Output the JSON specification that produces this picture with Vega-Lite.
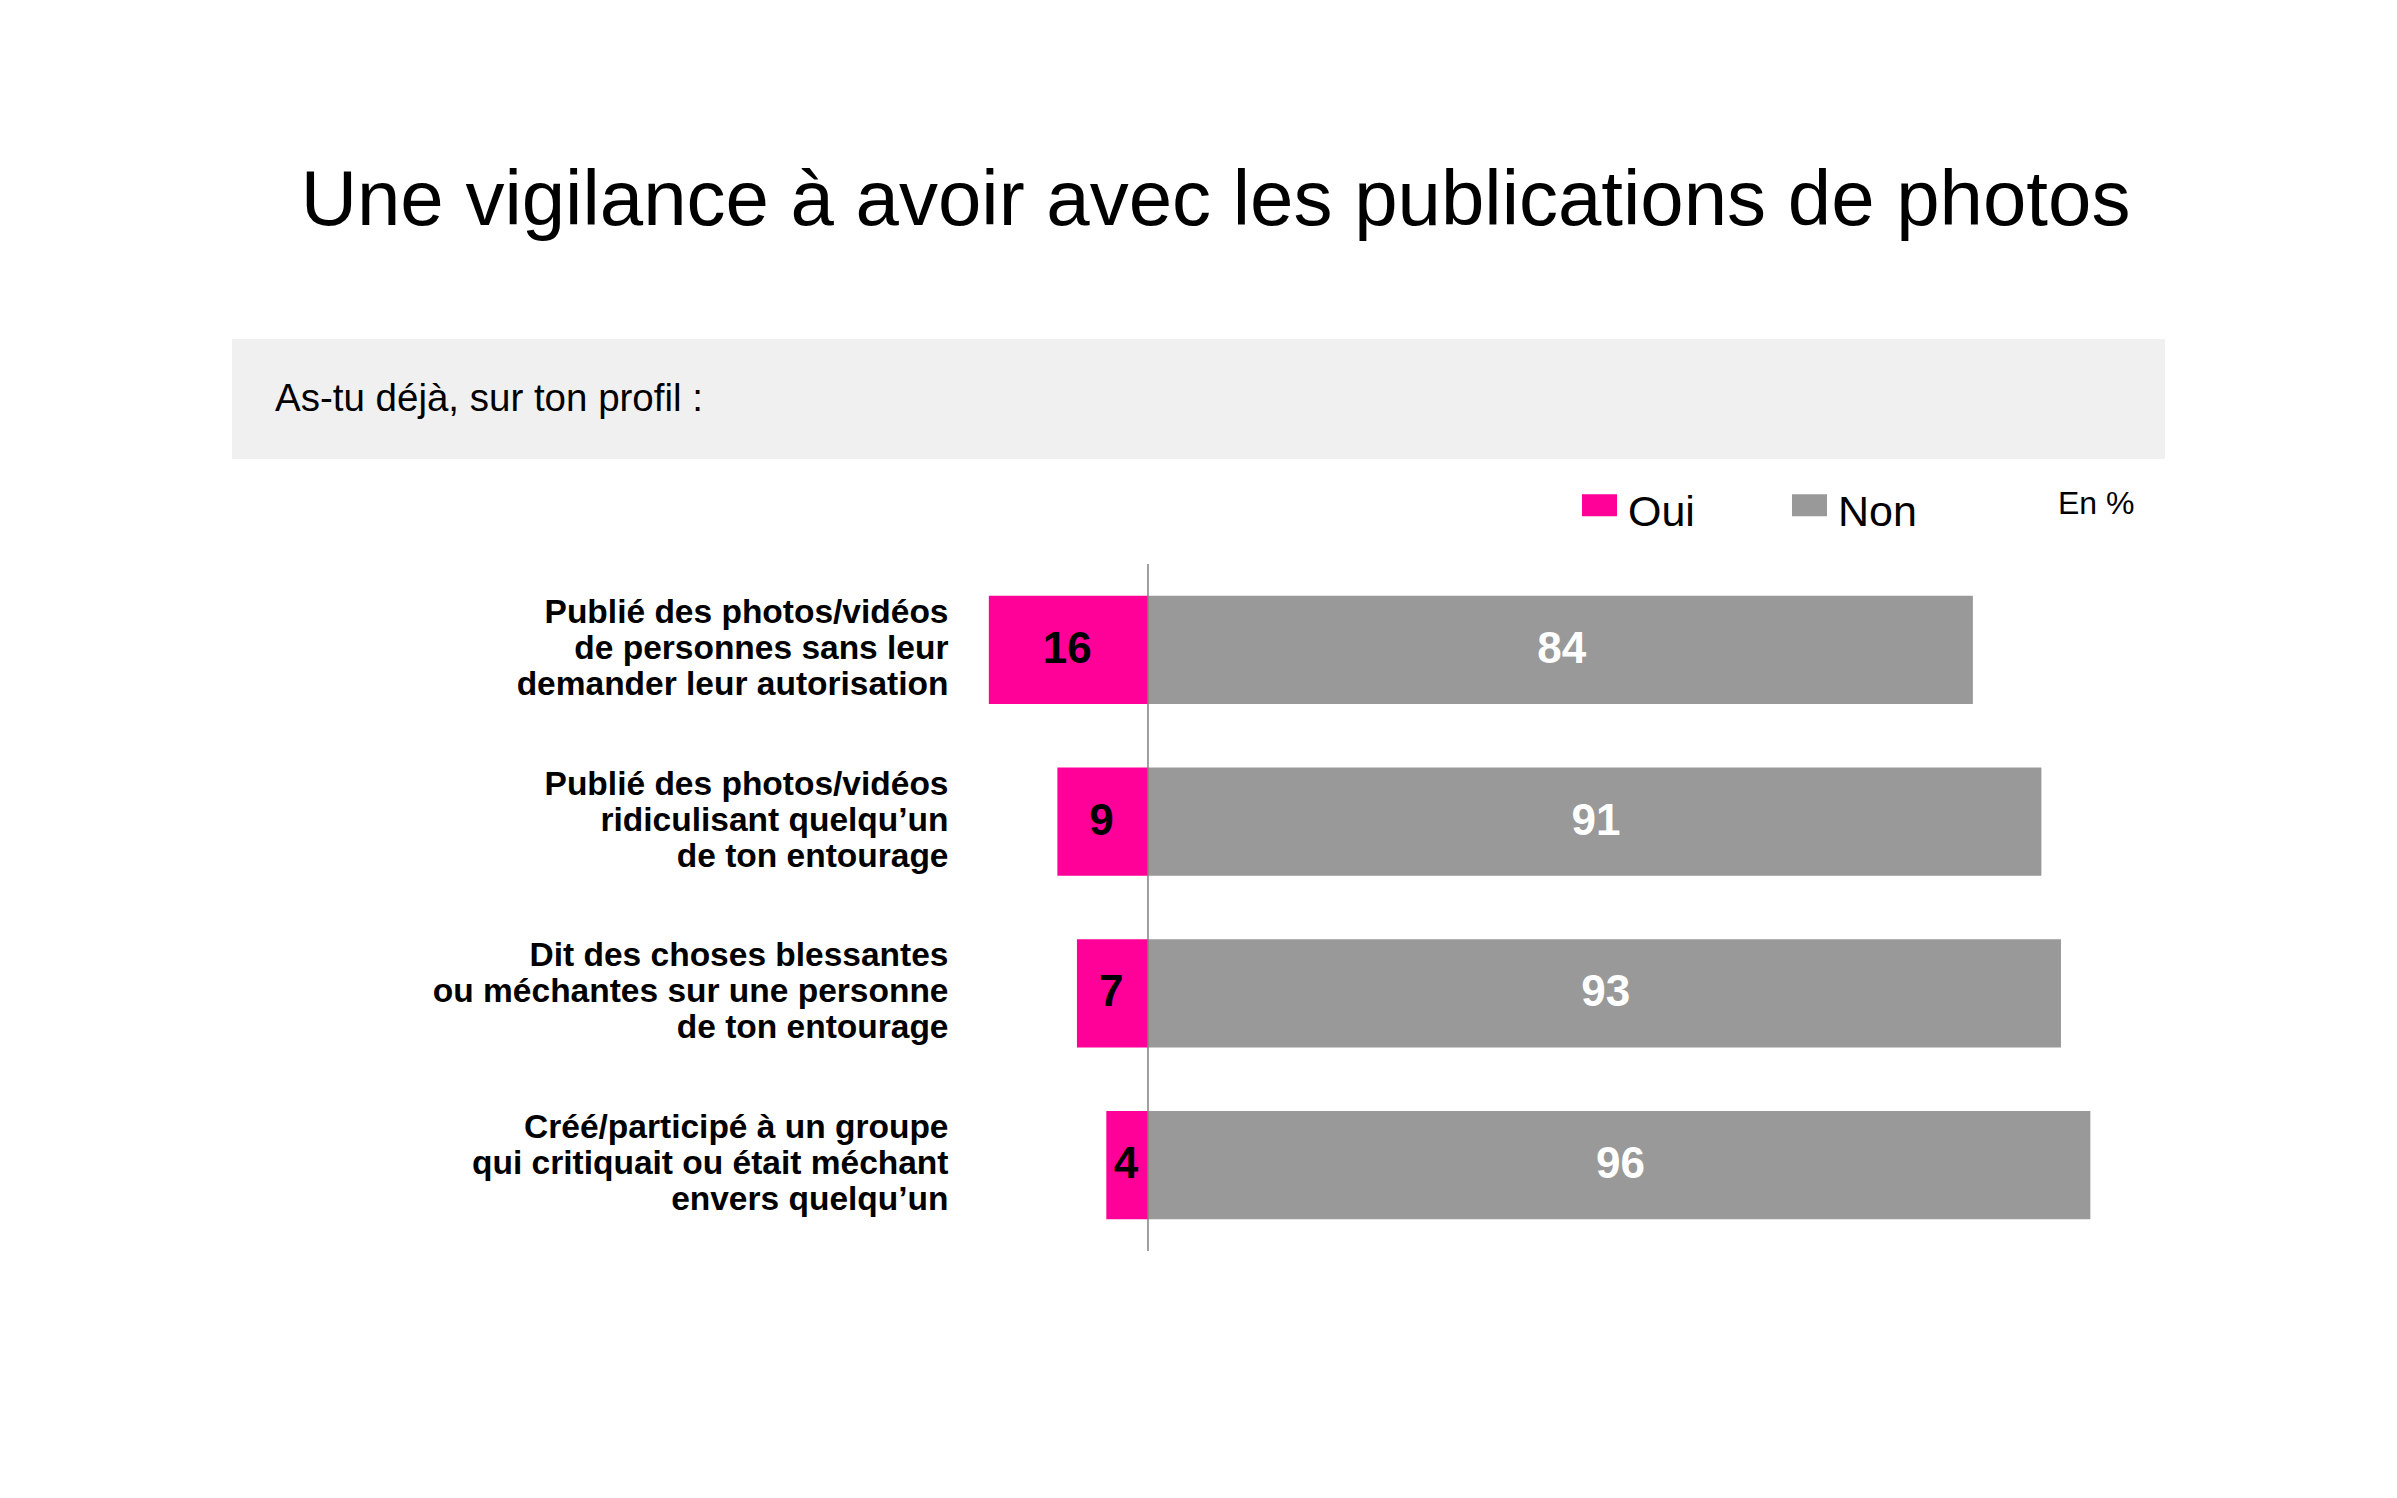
{
  "$schema": "https://vega.github.io/schema/vega-lite/v6.json",
  "background": "white",
  "padding": {"left": 232, "top": 163, "right": 10, "bottom": 10},
  "title": {
    "text": "Une vigilance à avoir avec les publications de photos",
    "fontSize": 78, "fontWeight": "normal", "font": "Liberation Sans", "color": "black",
    "anchor": "middle", "dx": 17, "offset": 98
  },
  "spacing": 104,
  "config": {"font": "Liberation Sans", "view": {"stroke": null}},
  "vconcat": [
    {
      "width": 1933,
      "height": 120,
      "view": {"fill": "#f0f0f0", "stroke": null},
      "data": {"values": [{"question": "As-tu déjà, sur ton profil :"}]},
      "mark": {"type": "text", "align": "left", "baseline": "middle", "fontSize": 38.5, "color": "black", "dx": 43},
      "encoding": {
        "text": {"field": "question"},
        "x": {"datum": 0, "type": "quantitative", "scale": {"domain": [0, 1]}, "axis": null},
        "y": {"datum": 0.5, "type": "quantitative", "scale": {"domain": [0, 1]}, "axis": null}
      }
    },
    {
      "width": 1933,
      "height": 687,
      "data": {
        "values": [
          {"item": "Publié des photos/vidéos|de personnes sans leur|demander leur autorisation", "reponse": "Oui", "valeur": 16},
          {"item": "Publié des photos/vidéos|de personnes sans leur|demander leur autorisation", "reponse": "Non", "valeur": 84},
          {"item": "Publié des photos/vidéos|ridiculisant quelqu’un|de ton entourage", "reponse": "Oui", "valeur": 9},
          {"item": "Publié des photos/vidéos|ridiculisant quelqu’un|de ton entourage", "reponse": "Non", "valeur": 91},
          {"item": "Dit des choses blessantes|ou méchantes sur une personne|de ton entourage", "reponse": "Oui", "valeur": 7},
          {"item": "Dit des choses blessantes|ou méchantes sur une personne|de ton entourage", "reponse": "Non", "valeur": 93},
          {"item": "Créé/participé à un groupe|qui critiquait ou était méchant|envers quelqu’un", "reponse": "Oui", "valeur": 4},
          {"item": "Créé/participé à un groupe|qui critiquait ou était méchant|envers quelqu’un", "reponse": "Non", "valeur": 96}
        ]
      },
      "transform": [
        {"calculate": "datum.reponse === 'Oui' ? -datum.valeur : datum.valeur", "as": "signe"},
        {"calculate": "datum.signe / 2", "as": "milieu"}
      ],
      "layer": [
        {
          "transform": [{"filter": "datum.reponse === 'Oui'"}],
          "mark": {"type": "bar", "xOffset": -2.5},
          "encoding": {
            "y": {"field": "item", "type": "nominal", "sort": null,
              "scale": {"paddingInner": 0.37, "paddingOuter": 0.185},
              "axis": {"title": null, "domain": false, "ticks": false, "labelFontSize": 33.5, "labelFontWeight": "bold",
                "labelColor": "black", "labelPadding": 24, "labelLineHeight": 36, "labelLimit": 800,
                "offset": -740, "labelOffset": -37, "labelExpr": "split(datum.label, '|')",
                "labelBaseline": "middle", "labelAlign": "right", "labelFont": "Liberation Sans"}},
            "x": {"field": "signe", "type": "quantitative", "scale": {"domain": [-93.56, 103.88], "nice": false, "zero": false}, "axis": null},
            "x2": {"datum": 0},
            "color": {"field": "reponse", "type": "nominal",
              "scale": {"domain": ["Oui", "Non"], "range": ["#FF0099", "#999999"]},
              "legend": {"orient": "none", "legendX": 1346, "legendY": 152.5, "direction": "horizontal",
                "title": "En %", "titleOrient": "right", "titleFontSize": 32, "titleFontWeight": "normal",
                "titleColor": "black", "titlePadding": 141, "titleAnchor": "middle", "titleBaseline": "alphabetic",
                "titleFont": "Liberation Sans",
                "labelFontSize": 43, "labelColor": "black", "labelOffset": 7, "columnPadding": 93,
                "labelFont": "Liberation Sans", "labelBaseline": "middle",
                "symbolType": "M-1,-1.09H1V0.17H-1Z", "symbolSize": 1225, "symbolStrokeWidth": 0,
                "symbolOpacity": 1, "padding": 0}}
          }
        },
        {
          "transform": [{"filter": "datum.reponse === 'Non'"}],
          "mark": {"type": "bar", "xOffset": 2.5},
          "encoding": {
            "y": {"field": "item", "type": "nominal", "sort": null,
              "scale": {"paddingInner": 0.37, "paddingOuter": 0.185}},
            "x": {"field": "signe", "type": "quantitative"},
            "x2": {"datum": 0},
            "color": {"field": "reponse", "type": "nominal"}
          }
        },
        {
          "data": {"values": [{"zero": 0}]},
          "mark": {"type": "rule", "color": "#808080", "strokeWidth": 1.5},
          "encoding": {"x": {"field": "zero", "type": "quantitative"}}
        },
        {
          "transform": [{"filter": "datum.reponse === 'Oui'"}],
          "mark": {"type": "text", "fontSize": 44, "fontWeight": "bold", "color": "black", "xOffset": -2.5, "baseline": "middle"},
          "encoding": {
            "y": {"field": "item", "type": "nominal", "sort": null},
            "x": {"field": "milieu", "type": "quantitative"},
            "text": {"field": "valeur", "type": "quantitative"}
          }
        },
        {
          "transform": [{"filter": "datum.reponse === 'Non'"}],
          "mark": {"type": "text", "fontSize": 44, "fontWeight": "bold", "color": "white", "xOffset": 2.5, "baseline": "middle"},
          "encoding": {
            "y": {"field": "item", "type": "nominal", "sort": null},
            "x": {"field": "milieu", "type": "quantitative"},
            "text": {"field": "valeur", "type": "quantitative"}
          }
        }
      ]
    }
  ]
}
